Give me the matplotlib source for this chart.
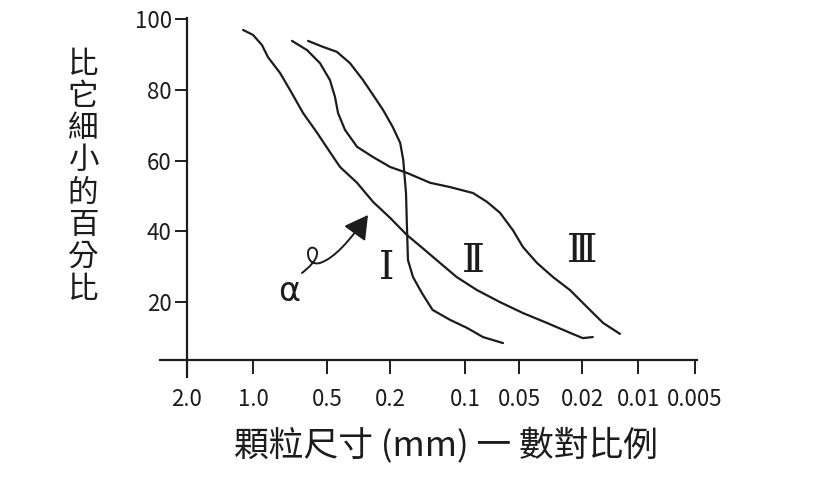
import numpy as np
import matplotlib.pyplot as plt
from matplotlib.path import Path
from matplotlib.patches import FancyArrowPatch

plt.rcParams['font.family'] = ['Noto Sans CJK TC', 'DejaVu Sans']

# axis ticks
size_ticks = [2.0, 1.0, 0.5, 0.2, 0.1, 0.05, 0.02, 0.01, 0.005]
size_labels = ['2.0', '1.0', '0.5', '0.2', '0.1', '0.05', '0.02', '0.01', '0.005']
pct_ticks = [20, 40, 60, 80, 100]

# curve marked with alpha (grain size in mm, percent finer)
a_size = [1.11, 1.0, 0.919, 0.869, 0.776, 0.707, 0.626, 0.549, 0.479, 0.414,
          0.323, 0.256, 0.2, 0.171, 0.148, 0.126, 0.108, 0.0857, 0.0638, 0.0472,
          0.0333, 0.0238, 0.0198, 0.0175]
a_pct = [97.0, 95.6, 92.7, 89.3, 84.8, 80.0, 73.5, 67.9, 62.4, 58.2,
         53.7, 48.3, 43.8, 38.9, 35.2, 31.0, 27.0, 23.3, 19.9, 16.8,
         14.0, 11.2, 9.7, 10.0]

# middle curve, long tail to the fine side
b_size = [0.694, 0.603, 0.534, 0.479, 0.445, 0.426, 0.385, 0.323, 0.256, 0.2,
          0.171, 0.138, 0.115, 0.0902, 0.0754, 0.0638, 0.0541, 0.0472, 0.0385,
          0.0305, 0.0238, 0.0188, 0.0154, 0.0125]
b_pct = [93.9, 91.3, 87.6, 82.8, 78.0, 73.5, 68.7, 63.9, 61.0, 58.2,
         56.5, 53.7, 52.5, 50.8, 48.3, 45.2, 40.3, 35.5, 31.0,
         27.0, 23.3, 18.5, 14.0, 10.9]

# steep curve
c_size = [0.597, 0.519, 0.433, 0.358, 0.296, 0.256, 0.221, 0.195, 0.182, 0.177,
          0.1725, 0.171, 0.1694, 0.1617, 0.149, 0.135, 0.115, 0.0975, 0.0794, 0.0614]
c_pct = [93.9, 92.2, 90.8, 87.6, 82.8, 78.6, 74.3, 69.5, 65.0, 60.2,
         50.8, 41.2, 31.8, 27.0, 22.5, 17.7, 14.9, 12.6, 10.0, 8.3]

# hand drawn tick spacing along the x axis (not evenly logarithmic)
tick_px = np.array([0, 66, 140, 203, 278, 332, 395, 451, 508], dtype=float)
lg_ticks = -np.log10(size_ticks)


def fwd(x):
    x = np.clip(np.asarray(x, dtype=float), 1e-9, None)
    return np.interp(-np.log10(x), lg_ticks, tick_px)


def inv(p):
    return 10 ** -np.interp(np.asarray(p, dtype=float), tick_px, lg_ticks)


ink = '#1c1c1c'
W, H = 831, 497
fig = plt.figure(figsize=(W / 100, H / 100), dpi=100)
ax = fig.add_axes([187 / W, (H - 360) / H, 508 / W, (360 - 17.6) / H])

ax.set_xscale('function', functions=(fwd, inv))
ax.set_xlim(0.005, 2.0)
ax.set_ylim(3.5, 100.5)

for s, p in [(a_size, a_pct), (b_size, b_pct), (c_size, c_pct)]:
    ax.plot(s, p, color=ink, lw=1.6, solid_joinstyle='round', solid_capstyle='round')

for sp in ax.spines.values():
    sp.set_visible(False)
ax.axhline(3.5, xmin=-0.053, xmax=1.004, color=ink, lw=1.6, clip_on=False)
ax.axvline(2.0, ymin=-0.05, ymax=1.0, color=ink, lw=1.6, clip_on=False)

ax.set_xticks(size_ticks, size_labels)
ax.set_yticks(pct_ticks)
ax.minorticks_off()
ax.tick_params(axis='x', direction='out', length=10, width=1.4, color=ink,
               pad=10, labelsize=16, labelcolor=ink)
ax.tick_params(axis='y', direction='out', length=9, width=1.4, color=ink,
               pad=2, labelsize=16, labelcolor=ink)

# region labels
roman = ['DejaVu Serif', 'Noto Sans CJK TC']
ax.text(0.209, 29.3, 'Ⅰ', fontsize=28, ha='center', va='center', color=ink, family=roman)
ax.text(0.0902, 31.3, 'Ⅱ', fontsize=28, ha='center', va='center', color=ink, family=roman)
ax.text(0.02, 34.1, 'Ⅲ', fontsize=28, ha='center', va='center', color=ink, family=roman)

# alpha with a looped arrow (drawn in axes fraction)
ax.text(0.714, 22.8, 'α', fontsize=24, ha='center', va='center', color=ink,
        family=['DejaVu Sans'])
verts = [(0.2264, 0.2541),
         (0.2382, 0.2687), (0.2579, 0.2921), (0.2559, 0.3154),
         (0.2539, 0.3329), (0.2382, 0.3329), (0.2382, 0.3125),
         (0.2382, 0.2921), (0.2461, 0.2775), (0.2618, 0.2833),
         (0.2913, 0.2979), (0.3209, 0.3505), (0.3563, 0.4235)]
codes = [Path.MOVETO] + [Path.CURVE4] * 12
arrow = FancyArrowPatch(path=Path(verts, codes), transform=ax.transAxes,
                        arrowstyle='-|>,head_length=0.8,head_width=0.45',
                        mutation_scale=18, lw=1.4, color=ink)
ax.add_patch(arrow)

fig.text(446 / W, (H - 445) / H, '顆粒尺寸 (mm) 一 數對比例', fontsize=25,
         ha='center', va='center', color=ink)
fig.text(83 / W, (H - 177) / H, '\n'.join('比它細小的百分比'), fontsize=22,
         ha='center', va='center', color=ink, linespacing=1.045)

fig.savefig('out.png', dpi=100)
